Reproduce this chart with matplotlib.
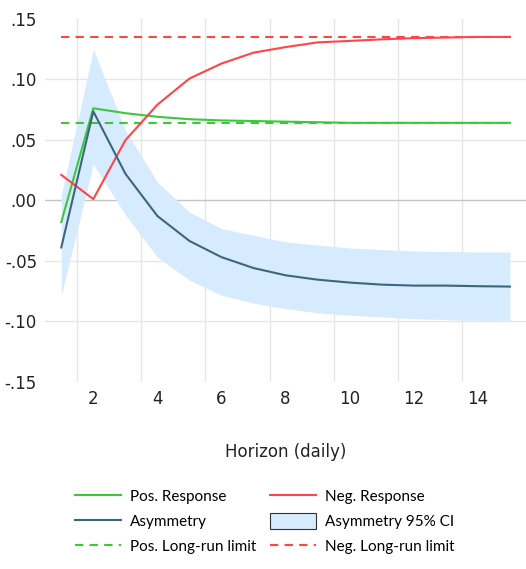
import numpy as np
import matplotlib
matplotlib.use('Agg')
import matplotlib.pyplot as plt
from matplotlib.patches import Patch
from matplotlib.lines import Line2D

horizon = list(range(1, 16))

pos_response = [-0.018, 0.076, 0.072, 0.069, 0.067, 0.066, 0.0655, 0.065, 0.0645, 0.064, 0.064, 0.064, 0.064, 0.064, 0.064]
neg_response = [0.021, 0.001, 0.0496, 0.079, 0.1006, 0.113, 0.122, 0.1266, 0.1305, 0.1317, 0.133, 0.134, 0.1345, 0.135, 0.135]
asymmetry = [-0.039, 0.0735, 0.022, -0.013, -0.0336, -0.047, -0.056, -0.062, -0.0656, -0.068, -0.0697, -0.0705, -0.0705, -0.071, -0.0713]
ci_upper = [0.004, 0.1245, 0.058, 0.015, -0.0097, -0.0234, -0.029, -0.0344, -0.037, -0.0394, -0.0408, -0.0419, -0.0424, -0.0427, -0.0427]
ci_lower = [-0.0785, 0.030, -0.012, -0.047, -0.066, -0.0785, -0.085, -0.0895, -0.093, -0.095, -0.0964, -0.0978, -0.0986, -0.0992, -0.0992]
pos_limit = 0.064
neg_limit = 0.135

xticks = [2, 4, 6, 8, 10, 12, 14]
yticks = [-0.15, -0.10, -0.05, 0.00, 0.05, 0.10, 0.15]
ytick_labels = ['-.15', '-.10', '-.05', '.00', '.05', '.10', '.15']

green = '#3cc83c'
red = '#ff4545'
slate = '#3c6680'
band = '#d6ebfd'

fig = plt.figure(figsize=(5.26, 5.69), dpi=100)
ax = fig.add_axes([0.086, 0.329, 0.914, 0.638])

ax.fill_between(horizon, ci_lower, ci_upper, color=band, lw=0, zorder=1)
ax.plot(horizon, [pos_limit] * len(horizon), color=green, lw=1.5, ls=(0, (4, 3)), zorder=3)
ax.plot(horizon, [neg_limit] * len(horizon), color=red, lw=1.5, ls=(0, (4, 3)), zorder=3)
ax.plot(horizon, pos_response, color=green, lw=1.5, zorder=4)
ax.plot(horizon, neg_response, color=red, lw=1.5, zorder=4)
ax.plot(horizon, asymmetry, color=slate, lw=1.5, zorder=4)

ax.set_xlim(0.5, 15.5)
ax.set_ylim(-0.15, 0.15)

# eviews style grid: vertical lines sit between observations
for gx in np.arange(1.5, 14.6, 2):
    ax.axvline(gx, color='#e6e6e6', lw=1, zorder=0)
for gy in [-0.10, -0.05, 0.05, 0.10]:
    ax.axhline(gy, color='#e6e6e6', lw=1, zorder=0)
ax.axhline(0, color='#c4c4c4', lw=1, zorder=0)

ax.set_xticks(xticks)
ax.set_yticks(yticks)
ax.set_yticklabels(ytick_labels)
ax.tick_params(length=0, labelsize=12, colors='#222222', pad=6)
for s in ax.spines.values():
    s.set_visible(False)

ax.set_xlabel('Horizon (daily)', fontsize=12, labelpad=25, color='#222222')

handles = [
    Line2D([], [], color=green, lw=1.5),
    Line2D([], [], color=slate, lw=1.5),
    Line2D([], [], color=green, lw=1.5, ls=(0, (4, 3))),
    Line2D([], [], color=red, lw=1.5),
    Patch(facecolor=band, edgecolor='#333333', lw=0.8),
    Line2D([], [], color=red, lw=1.5, ls=(0, (4, 3))),
]
labels = ['Pos. Response', 'Asymmetry', 'Pos. Long-run limit',
          'Neg. Response', 'Asymmetry 95% CI', 'Neg. Long-run limit']
fig.legend(handles, labels, ncol=2, loc='upper left', bbox_to_anchor=(0.142, 0.142),
           frameon=False, prop={'family': 'Lato', 'size': 11},
           handlelength=3.0, handleheight=1.2, handletextpad=0.6, columnspacing=0.9,
           labelspacing=0.6, borderaxespad=0, borderpad=0)

fig.savefig('out.png', dpi=100)
